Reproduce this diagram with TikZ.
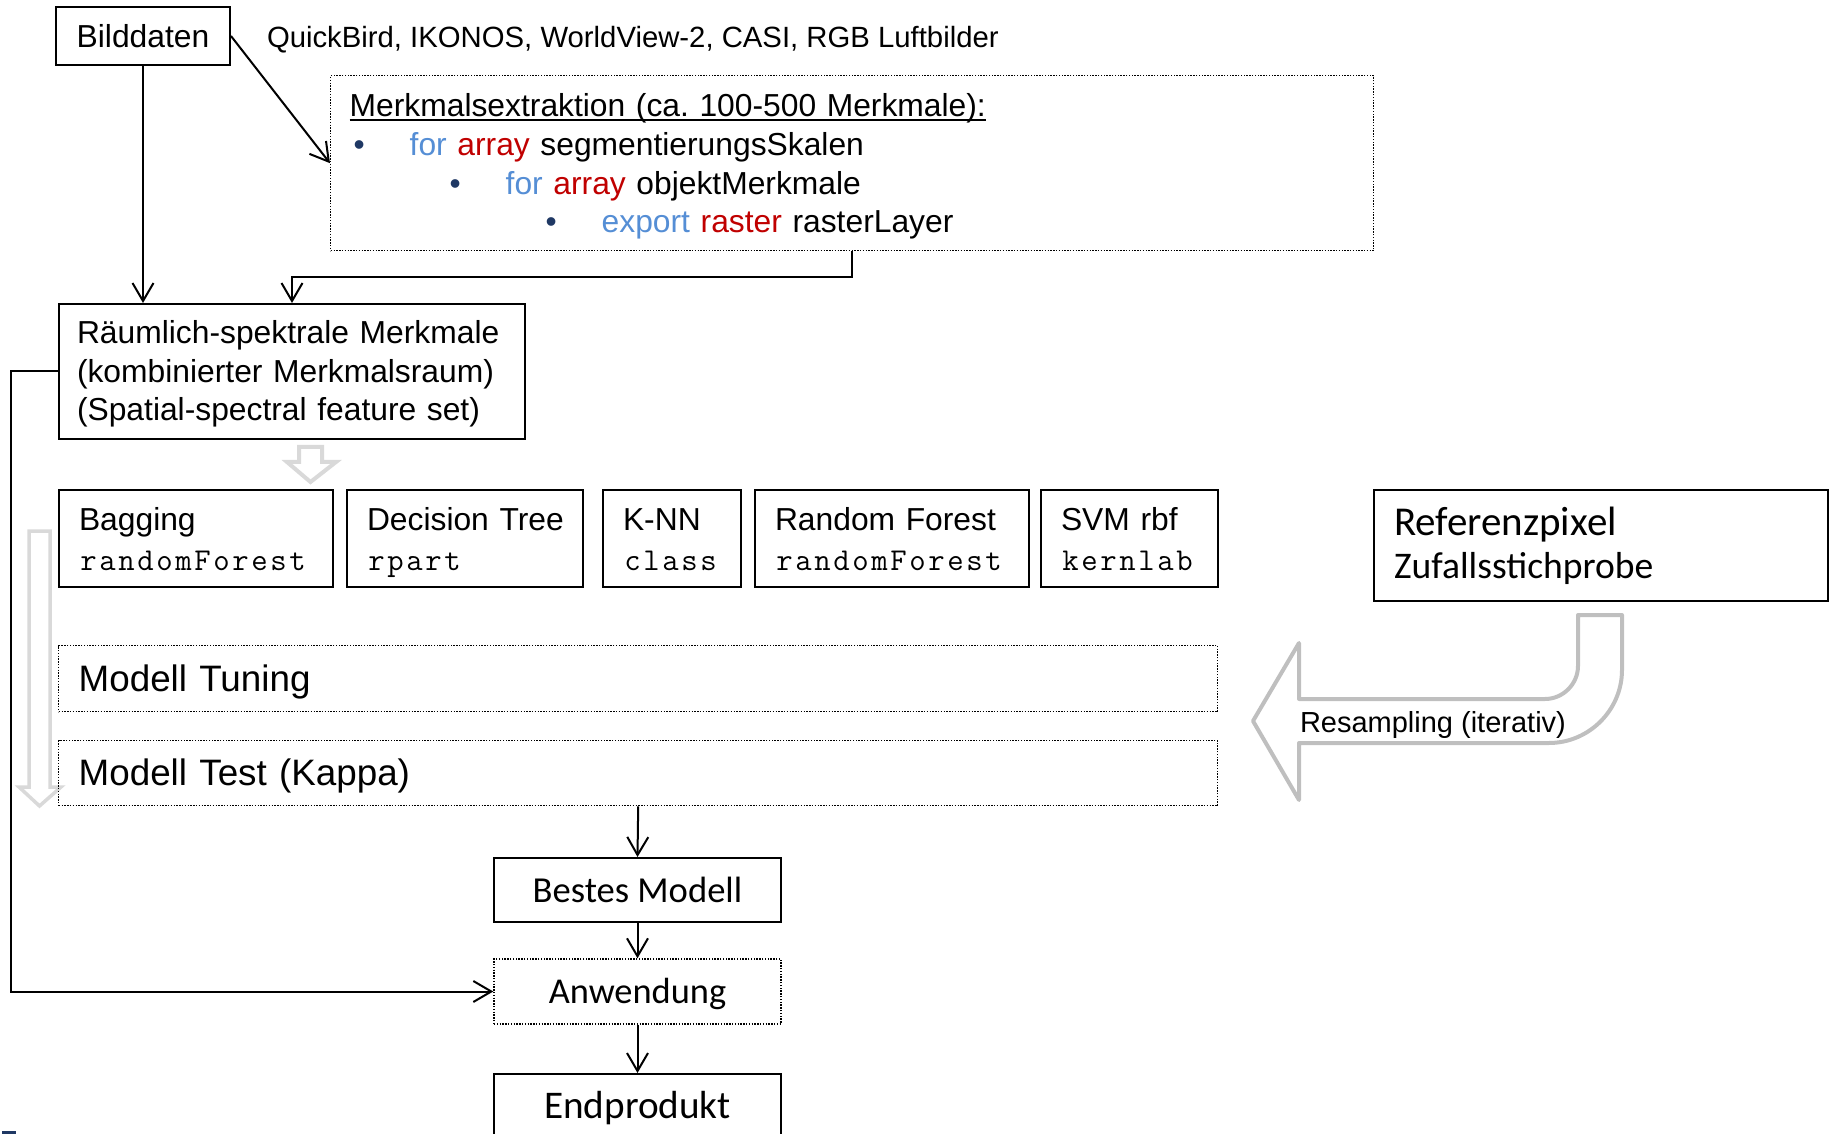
\documentclass[tikz,border=0pt]{standalone}
\usepackage{fontspec}
\setmainfont{Liberation Sans}
\newfontfamily\calibri{Carlito}
\usetikzlibrary{arrows.meta}
\frenchspacing
\definecolor{forblue}{HTML}{558ED5}
\definecolor{arrayred}{HTML}{C00000}
\definecolor{bulletblue}{HTML}{1F3864}
\definecolor{paleline}{HTML}{D9D9D9}
\definecolor{greyline}{HTML}{BFBFBF}
\makeatletter
\newcommand{\spacedcode}[1]{{\ttfamily\@tfor\sc@tok:=#1\do{\makebox[9.5pt]{\sc@tok}}}}
\makeatother
\newcommand{\ulined}[1]{\setbox0\hbox{#1}\rlap{\rule[-2pt]{\wd0}{0.9pt}}\box0}
\newcommand{\loopline}[4]{\hspace*{#1}\makebox[28pt][l]{\textcolor{bulletblue}{\textbullet}}\textcolor{forblue}{#2} \textcolor{arrayred}{#3} #4}
\newcommand{\algtext}[2]{#1\rule{0pt}{16pt}\\\spacedcode{#2}\rule[-4pt]{0pt}{4pt}}

\begin{document}
\begin{tikzpicture}[x=0.5pt, y=-0.5pt, line width=1pt,
  >={Straight Barb[length=9pt,width=10.5pt]},
  box/.style={draw, rectangle, inner sep=0pt, line width=1pt},
  dotbox/.style={draw, rectangle, inner sep=0pt, line width=0.7pt, dash pattern=on 0.7pt off 0.7pt},
  algbox/.style={box, anchor=north west, minimum height=48.5pt, inner xsep=10pt, align=left, font=\fontsize{15.9}{19.7}\selectfont},
  hollow/.style={draw=paleline, line width=2pt}]
  \useasboundingbox (0,0) rectangle (1833,1134);
  \draw[hollow] (299,447) -- (322,447) -- (322,462) -- (336,462) -- (310.5,482) -- (287,462) -- (299,462) -- cycle;
  \draw[hollow, line width=1.75pt] (29,531) -- (50,531) -- (50,787) -- (61,787) -- (39.5,806) -- (19,787) -- (29,787) -- cycle;
  \draw[draw=greyline, line width=2pt, line join=round] (1578,615) -- (1578,666) .. controls (1578,684) and (1563,699) .. (1545,699) -- (1299,699) -- (1299,643) -- (1253,721) -- (1299,800) -- (1299,743) -- (1549,743) .. controls (1589,743) and (1622,710) .. (1622,670) -- (1622,615) -- cycle;

  \node[box, minimum width=87pt, minimum height=29pt, font=\fontsize{15.9}{19}\selectfont] (bild) at (143,36) {Bilddaten};
  \node[anchor=west, inner sep=0pt, font=\fontsize{14.65}{17}\selectfont] (sensoren) at (266,39.5) {QuickBird, IKONOS, WorldView-2, CASI, RGB Luftbilder};
  \node[dotbox, anchor=north west, minimum height=87.5pt, text width=502.5pt, inner xsep=9.5pt, align=left, font=\fontsize{15.9}{19.3}\selectfont] (extraktion) at (330,75) {\rule{0pt}{15pt}\ulined{Merkmalsextraktion (ca. 100-500 Merkmale):}\\
    \loopline{2pt}{for}{array}{segmentierungsSkalen}\\
    \loopline{50pt}{for}{array}{objektMerkmale}\\
    \loopline{98pt}{export}{raster}{rasterLayer}};
  \node[box, anchor=north west, minimum height=67.5pt, text width=215pt, inner xsep=9pt, align=left, font=\fontsize{15.9}{19.25}\selectfont] (merkmale) at (58,303) {\rule{0pt}{14.3pt}Räumlich-spektrale~Merkmale\\(kombinierter~Merkmalsraum)\\(Spatial-spectral~feature~set)};

  \node[algbox, text width=117pt] (bagging) at (58,489) {\algtext{Bagging}{randomForest}};
  \node[algbox, text width=98pt] (dtree) at (346,489) {\algtext{Decision~Tree}{rpart}};
  \node[algbox, text width=49pt] (knn) at (602,489) {\algtext{K-NN}{class}};
  \node[algbox, text width=117pt] (rf) at (754,489) {\algtext{Random~Forest}{randomForest}};
  \node[algbox, text width=68.5pt] (svm) at (1040,489) {\algtext{SVM~rbf}{kernlab}};
  \node[box, anchor=north west, minimum height=55.5pt, text width=207pt, inner xsep=10pt, align=left, font=\calibri\fontsize{18.8}{21.5}\selectfont] (referenz) at (1373,489) {{\fontsize{20.5}{21.5}\selectfont Referenzpixel}\\Zufallsstichprobe};

  \node[dotbox, anchor=north west, minimum height=33pt, text width=559.5pt, inner xsep=10pt, align=left, font=\fontsize{18.4}{22}\selectfont] (tuning) at (58,645) {\rule{0pt}{16.3pt}Modell Tuning};
  \node[dotbox, anchor=north west, minimum height=32.5pt, text width=559.5pt, inner xsep=10pt, align=left, font=\fontsize{18.4}{22}\selectfont] (test) at (58,740) {\rule{0pt}{16.3pt}Modell Test (Kappa)};
  \node[anchor=west, inner sep=0pt, font=\fontsize{14.5}{17}\selectfont] (resampling) at (1299,725) {Resampling (iterativ)};

  \node[box, minimum width=143.5pt, minimum height=32pt, font=\calibri\fontsize{18.3}{22}\selectfont] (best) at (637.5,890) {Bestes Modell};
  \node[dotbox, minimum width=143.5pt, minimum height=32.5pt, font=\calibri\fontsize{18.2}{22}\selectfont] (anwendung) at (637.5,991.5) {\rule{0pt}{15pt}Anwendung};
  \node[box, anchor=north, minimum width=143.5pt, minimum height=32pt, font=\calibri\fontsize{19.6}{23}\selectfont] (endprodukt) at (637.5,1073) {\rule{0pt}{16pt}Endprodukt};

  \draw[->] (bild.south) -- (bild.south |- merkmale.north);
  \draw[->] (bild.east) -- (extraktion.west);
  \draw[->] (extraktion.south) -- ++(0,26) -| (merkmale.north);
  \draw[->] (merkmale.west) -- ++(-47,0) |- (anwendung.west);
  \draw[->] (test.south) -- (best.north);
  \draw[->] (best) -- (anwendung);
  \draw[->] (anwendung) -- (endprodukt);
  \fill[bulletblue] (2,1131) rectangle (16,1134);
\end{tikzpicture}
\end{document}
